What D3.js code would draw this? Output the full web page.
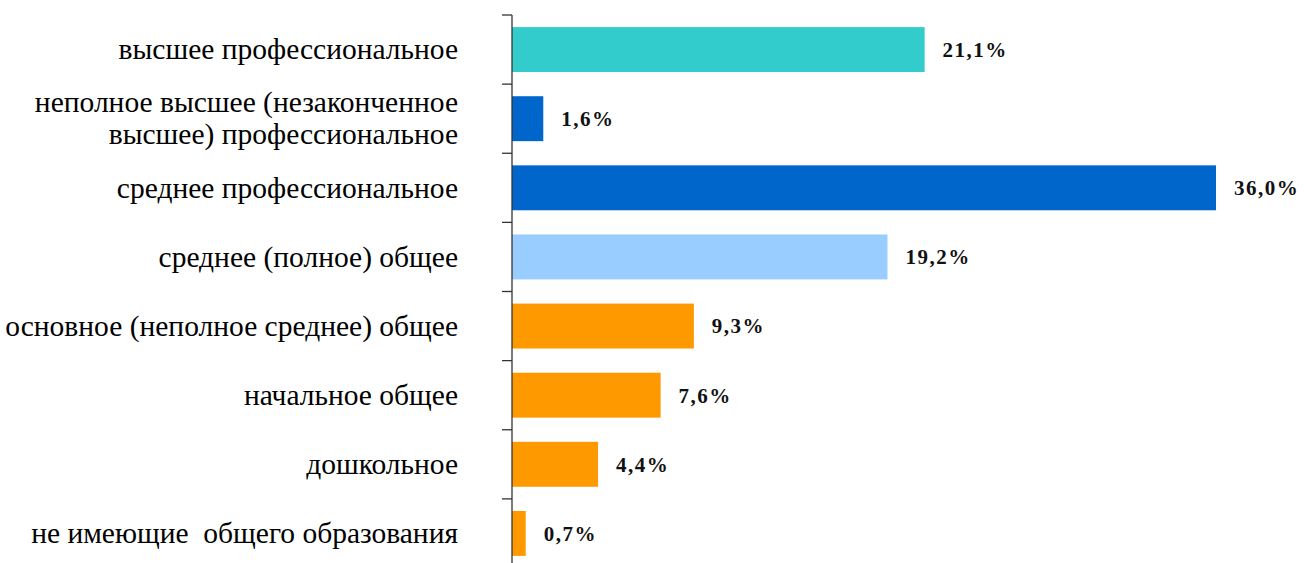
<!DOCTYPE html>
<html><head><meta charset="utf-8">
<script src="https://cdn.jsdelivr.net/npm/d3@7"></script>
<style>body{margin:0;background:#fff}svg{display:block}text{white-space:pre}</style>
</head><body>
<svg id="c" width="1314" height="563"></svg>
<script>
const categories = [
  ["высшее профессиональное"],
  ["неполное высшее (незаконченное", "высшее) профессиональное"],
  ["среднее профессиональное"],
  ["среднее (полное) общее"],
  ["основное (неполное среднее) общее"],
  ["начальное общее"],
  ["дошкольное"],
  ["не имеющие  общего образования"]
];
const values = [21.1, 1.6, 36.0, 19.2, 9.3, 7.6, 4.4, 0.7];
const valueLabels = ["21,1%", "1,6%", "36,0%", "19,2%", "9,3%", "7,6%", "4,4%", "0,7%"];
const colors = ["#33CCCC", "#0066CC", "#0066CC", "#99CCFF", "#FF9900", "#FF9900", "#FF9900", "#FF9900"];

const svg = d3.select("#c");
const x0 = 512;
const x = d3.scaleLinear().domain([0, 36]).range([x0, 1216]);
const y = d3.scaleBand().domain(d3.range(values.length)).range([15, 568]).paddingInner(0.35).paddingOuter(0.175);

svg.selectAll("rect.bar").data(values).join("rect").attr("class", "bar")
  .attr("x", x0).attr("y", (d, i) => y(i))
  .attr("width", d => x(d) - x0).attr("height", y.bandwidth())
  .attr("fill", (d, i) => colors[i]);

const band = 553 / 8;
const ax = svg.append("g").attr("stroke", "#333").attr("stroke-width", 1.3);
ax.append("line").attr("x1", x0).attr("x2", x0).attr("y1", 15).attr("y2", 563);
for (let i = 0; i < values.length; i++) {
  const ty = 15 + i * band;
  ax.append("line").attr("x1", x0 - 10).attr("x2", x0).attr("y1", ty).attr("y2", ty);
}

svg.selectAll("text.val").data(values).join("text").attr("class", "val")
  .attr("x", d => x(d) + 18).attr("y", (d, i) => y(i) + y.bandwidth() / 2)
  .attr("dy", "0.35em")
  .attr("font-family", "'Liberation Serif', serif")
  .attr("font-weight", "bold").attr("font-size", 21).attr("letter-spacing", 1.5)
  .attr("fill", "#111")
  .text((d, i) => valueLabels[i]);

const lab = svg.selectAll("text.cat").data(categories).join("text").attr("class", "cat")
  .attr("text-anchor", "end")
  .attr("font-family", "'Liberation Serif', serif")
  .attr("font-size", 29.5).attr("fill", "#000");
lab.each(function(lines, i) {
  const cy = y(i) + y.bandwidth() / 2;
  const lh = 32;
  const start = cy - (lines.length - 1) * lh / 2;
  d3.select(this).selectAll("tspan").data(lines).join("tspan")
    .attr("x", 458).attr("y", (d, j) => start + j * lh).attr("dy", "0.33em").text(d => d);
});
</script>
</body></html>
